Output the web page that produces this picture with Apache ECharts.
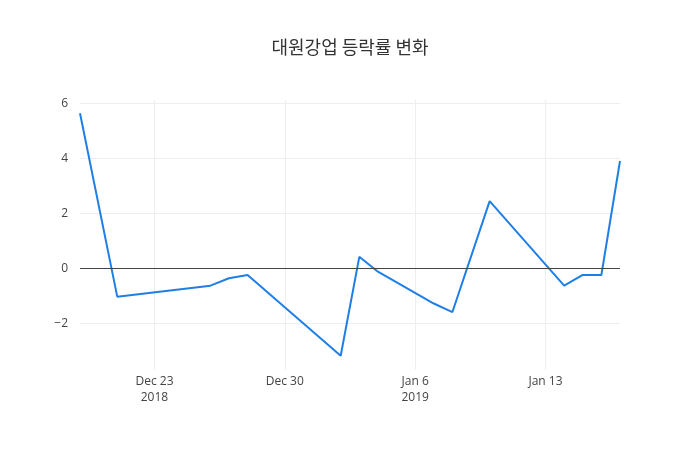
<!DOCTYPE html>
<html>
<head>
<meta charset="utf-8">
<script src="https://cdn.jsdelivr.net/npm/echarts@6/dist/echarts.min.js"></script>
<style>
  html, body { margin: 0; padding: 0; background: #fff; }
  #chart { width: 700px; height: 450px; }
</style>
</head>
<body>
<div id="chart"></div>
<script>
// 날짜별 등락률 (%)
var dates = ['2018-12-19', '2018-12-21', '2018-12-26', '2018-12-27', '2018-12-28',
  '2019-01-02', '2019-01-03', '2019-01-04', '2019-01-07', '2019-01-08',
  '2019-01-10', '2019-01-14', '2019-01-15', '2019-01-16', '2019-01-17'];
var rates = [5.65, -1.03, -0.63, -0.36, -0.24,
  -3.18, 0.42, -0.12, -1.28, -1.59,
  2.45, -0.63, -0.24, -0.24, 3.91];

// x축 눈금
var tickDates = ['2018-12-23', '2018-12-30', '2019-01-06', '2019-01-13'];
var tickLabels = ['Dec 23\n2018', 'Dec 30', 'Jan 6\n2019', 'Jan 13'];
var yTicks = [-2, 0, 2, 4, 6];

var toTime = function (s) { return +echarts.time.parse(s); };
var tickTimes = tickDates.map(toTime);

var myChart = echarts.init(document.getElementById('chart'));

var option = {
    animation: false,
    title: {
        text: '대원강업 등락률 변화',
        left: 'center',
        top: 33,
        textStyle: {
            fontFamily: '"Noto Sans CJK KR", "Open Sans", sans-serif',
            fontSize: 18,
            fontWeight: 'normal',
            color: '#333'
        }
    },
    grid: { left: 80, right: 80, top: 100, bottom: 80 },
    xAxis: {
        type: 'value',
        min: toTime('2018-12-19'),
        max: toTime('2019-01-17'),
        axisLine: { show: false },
        axisTick: { show: false, customValues: tickTimes },
        splitLine: { show: true, lineStyle: { color: '#eee', width: 1 } },
        axisLabel: {
            customValues: tickTimes,
            color: '#444',
            fontFamily: '"Open Sans", sans-serif',
            fontSize: 12,
            lineHeight: 16,
            margin: 4,
            formatter: function (v) {
                var i = tickTimes.indexOf(v);
                return i >= 0 ? tickLabels[i] : '';
            }
        }
    },
    yAxis: {
        type: 'value',
        min: -3.70,
        max: 6.13,
        axisLine: { show: false },
        axisTick: { show: false, customValues: yTicks },
        splitLine: { show: true, lineStyle: { color: '#eee', width: 1 } },
        axisLabel: {
            customValues: yTicks,
            color: '#444',
            fontFamily: '"Open Sans", sans-serif',
            fontSize: 12,
            margin: 12,
            formatter: function (v) {
                return v < 0 ? '\u2212' + Math.abs(v) : String(v);
            }
        }
    },
    series: [
        {
            type: 'line',
            data: dates.map(function (d, i) { return [toTime(d), rates[i]]; }),
            showSymbol: false,
            lineStyle: { color: '#1f7fe6', width: 2 },
            itemStyle: { color: '#1f7fe6' },
            markLine: {
                silent: true,
                symbol: ['none', 'none'],
                label: { show: false },
                lineStyle: { color: '#444', width: 1, type: 'solid' },
                data: [{ yAxis: 0 }]
            },
            z: 3
        }
    ]
};

myChart.setOption(option);
</script>
</body>
</html>
